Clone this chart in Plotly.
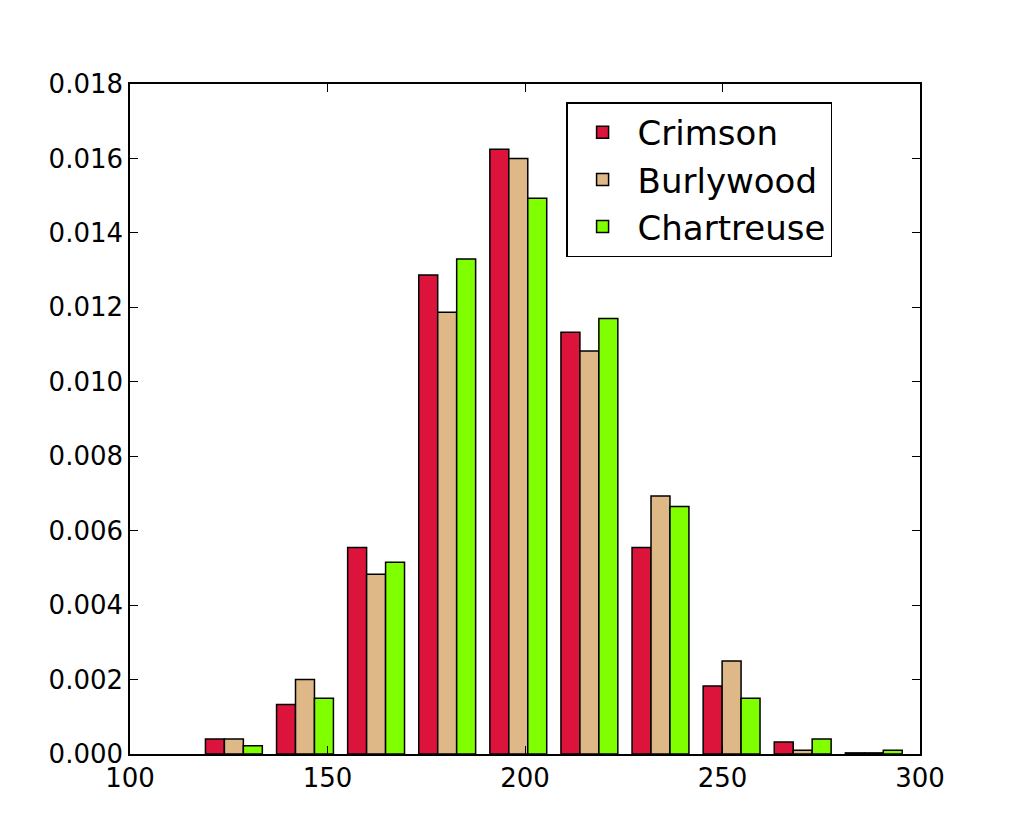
import plotly.graph_objects as go

bin_centers = [126.3, 144.3, 162.3, 180.3, 198.3, 216.3, 234.3, 252.3, 270.3, 288.3]
crimson = [0.0004, 0.00133, 0.00555, 0.01287, 0.01625, 0.01133, 0.00555, 0.00183, 0.00032, 0.00003]
burlywood = [0.0004, 0.002, 0.00483, 0.01187, 0.016, 0.01083, 0.00693, 0.0025, 0.0001, 0.00003]
chartreuse = [0.00022, 0.0015, 0.00515, 0.0133, 0.01493, 0.0117, 0.00665, 0.0015, 0.0004, 0.0001]
names = ["Crimson", "Burlywood", "Chartreuse"]
colors = ["crimson", "burlywood", "chartreuse"]

fig = go.Figure()
for n, c, v in zip(names, colors, [crimson, burlywood, chartreuse]):
    fig.add_bar(x=bin_centers, y=v, name=n, marker=dict(color=c, line=dict(color="black", width=1.5)))

ax = dict(showline=True, linecolor="black", linewidth=1.5, mirror="ticks", ticks="inside",
          ticklen=8, tickcolor="black", showgrid=False, zeroline=False,
          tickfont=dict(size=26, color="black", family="DejaVu Sans"))
fig.update_layout(
    width=1024, height=838, plot_bgcolor="white", paper_bgcolor="white",
    barmode="group", bargap=0.2, bargroupgap=0,
    margin=dict(l=122, r=112, t=76, b=92),
    xaxis=dict(range=[100, 300], tickvals=[100, 150, 200, 250, 300], **ax),
    yaxis=dict(range=[0, 0.018], dtick=0.002, tickformat=".3f", **ax),
    legend=dict(x=0.552, y=0.973, xanchor="left", yanchor="top", bordercolor="black", borderwidth=1.5,
                font=dict(size=34, color="black", family="DejaVu Sans"), bgcolor="white",
                itemwidth=60, tracegroupgap=8),
    showlegend=True,
)
fig.write_html("out.html")
